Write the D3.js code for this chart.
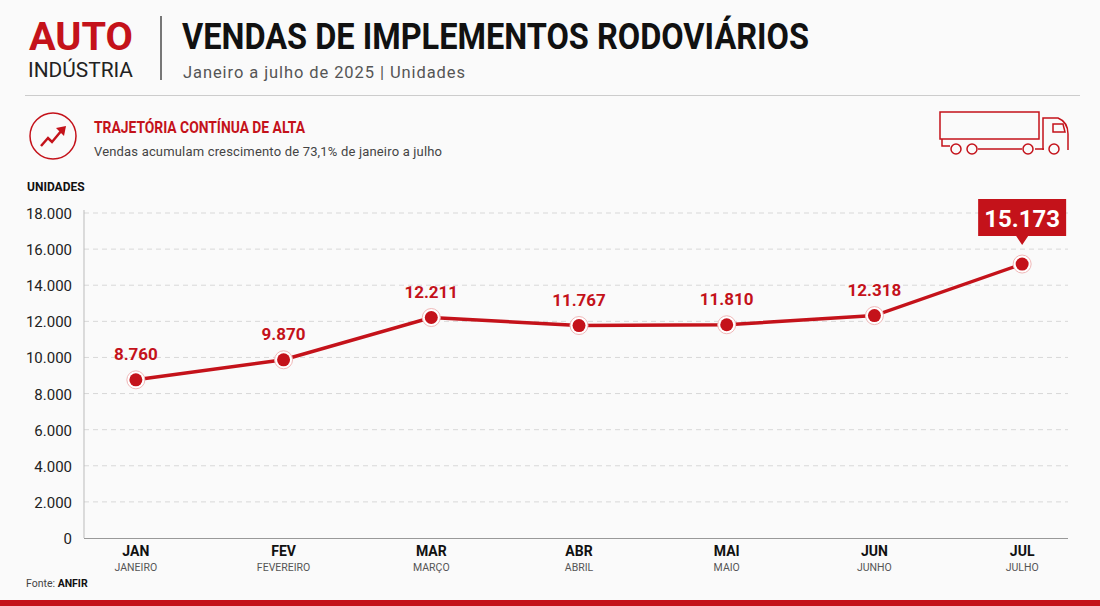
<!DOCTYPE html>
<html><head><meta charset="utf-8">
<script src="https://cdn.jsdelivr.net/npm/d3@7"></script>
<style>body{margin:0;background:#fafafa}svg{display:block}</style>
</head><body>
<script>
const months = ["JAN","FEV","MAR","ABR","MAI","JUN","JUL"];
const monthNames = ["JANEIRO","FEVEREIRO","MARÇO","ABRIL","MAIO","JUNHO","JULHO"];
const sales = [8760, 9870, 12211, 11767, 11810, 12318, 15173];
const yTicks = [0,2000,4000,6000,8000,10000,12000,14000,16000,18000];

const W = 1100, H = 606, RED = "#c4121a", COND = "Roboto,sans-serif";
const fmt = d3.formatLocale({decimal:",", thousands:".", grouping:[3]}).format(",");
const svg = d3.select("body").append("svg").attr("width", W).attr("height", H);
svg.append("rect").attr("width", W).attr("height", H).attr("fill", "#fafafa");

// header
svg.append("text").attr("x",29).attr("y",50).attr("fill",RED).attr("font-family",COND)
  .attr("font-weight","bold").attr("font-size",38).attr("textLength",104).attr("lengthAdjust","spacingAndGlyphs").text("AUTO");
svg.append("text").attr("x",28).attr("y",77).attr("fill","#222").attr("font-family","Roboto,sans-serif")
  .attr("font-size",21).attr("textLength",105).attr("lengthAdjust","spacingAndGlyphs").text("INDÚSTRIA");
svg.append("line").attr("x1",161).attr("x2",161).attr("y1",16).attr("y2",80).attr("stroke","#777").attr("stroke-width",2);
svg.append("text").attr("x",182).attr("y",49).attr("fill","#111").attr("font-family",COND)
  .attr("font-weight","bold").attr("font-size",37).attr("textLength",627).attr("lengthAdjust","spacingAndGlyphs").text("VENDAS DE IMPLEMENTOS RODOVIÁRIOS");
svg.append("text").attr("x",183).attr("y",78).attr("fill","#555").attr("font-family","Roboto,sans-serif")
  .attr("font-size",16.5).attr("textLength",282).text("Janeiro a julho de 2025 | Unidades");
svg.append("line").attr("x1",25).attr("x2",1080).attr("y1",95.5).attr("y2",95.5).attr("stroke","#ccc");

// subtitle block
svg.append("circle").attr("cx",53).attr("cy",136).attr("r",23).attr("fill","none").attr("stroke",RED).attr("stroke-width",1.5);
svg.append("path").attr("d","M41,146 L48,138 L52,142 L62,130").attr("fill","none").attr("stroke",RED).attr("stroke-width",2.5);
svg.append("path").attr("d","M56,128 L66,126 L64,136 Z").attr("fill",RED);
svg.append("text").attr("x",94).attr("y",133).attr("fill",RED).attr("font-family",COND)
  .attr("font-weight","bold").attr("font-size",16).attr("textLength",211).attr("lengthAdjust","spacingAndGlyphs").text("TRAJETÓRIA CONTÍNUA DE ALTA");
svg.append("text").attr("x",94).attr("y",156).attr("fill","#444").attr("font-family","Roboto,sans-serif")
  .attr("font-size",13).attr("textLength",348).text("Vendas acumulam crescimento de 73,1% de janeiro a julho");

// truck icon
const tk = svg.append("g").attr("fill","none").attr("stroke",RED).attr("stroke-width",1.5);
tk.append("rect").attr("x",940).attr("y",112).attr("width",99).attr("height",27);
tk.append("path").attr("d","M1043,150 L1043,118 L1058,118 Q1068,122 1068,134 L1068,150 M1053,124 L1063,124 L1065,132 L1053,132 Z M942,139 L942,146 L950,146 M978,149 L1022,149 M1035,149 L1044,149");
[956,972,1028,1054].forEach(cx => tk.append("circle").attr("cx",cx).attr("cy",149).attr("r",5));

svg.append("text").attr("x",27).attr("y",191).attr("fill","#111").attr("font-family",COND)
  .attr("font-weight","bold").attr("font-size",12).text("UNIDADES");

// scales
const x = d3.scalePoint().domain(months).range([62,1096]).padding(0.5);
const y = d3.scaleLinear().domain([0,18000]).range([538,213]);

// grid & y axis
svg.append("g").selectAll("line").data(yTicks.filter(d=>d>0)).join("line")
  .attr("x1",84).attr("x2",1068).attr("y1",d=>y(d)).attr("y2",d=>y(d))
  .attr("stroke","#d8d8d8").attr("stroke-dasharray","5,4");
svg.append("line").attr("x1",84).attr("x2",84).attr("y1",210).attr("y2",538).attr("stroke","#bbb");
svg.append("line").attr("x1",84).attr("x2",1068).attr("y1",538.5).attr("y2",538.5).attr("stroke","#999");
svg.append("g").selectAll("text").data(yTicks).join("text")
  .attr("x",72).attr("y",d=>y(d)+6).attr("text-anchor","end").attr("fill","#222")
  .attr("font-family","Roboto,sans-serif").attr("font-size",15).text(d=>fmt(d));

// x labels
const xl = svg.append("g").selectAll("g").data(months).join("g").attr("transform",d=>`translate(${x(d)},0)`);
xl.append("text").attr("y",556).attr("text-anchor","middle").attr("font-family",COND).attr("font-weight","bold")
  .attr("font-size",14).attr("fill","#111").text(d=>d);
xl.append("text").attr("y",571).attr("text-anchor","middle").attr("font-family","Roboto,sans-serif")
  .attr("font-size",10.5).attr("fill","#555").text((d,i)=>monthNames[i]);

// line
const pts = months.map((m,i)=>({m, v:sales[i]}));
svg.append("path").datum(pts).attr("fill","none").attr("stroke",RED).attr("stroke-width",3.5)
  .attr("d", d3.line().x(d=>x(d.m)).y(d=>y(d.v)));
const pg = svg.append("g").selectAll("g").data(pts).join("g").attr("transform",d=>`translate(${x(d.m)},${y(d.v)})`);
pg.append("circle").attr("r",9).attr("fill","#fff").attr("stroke","#f0b8b8");
pg.append("circle").attr("r",6.5).attr("fill",RED);

// value labels
pts.slice(0,6).forEach(d => {
  svg.append("text").attr("x",x(d.m)).attr("y",y(d.v)-20).attr("text-anchor","middle").attr("fill",RED)
    .attr("font-family",COND).attr("font-weight","bold").attr("font-size",17).text(fmt(d.v));
});
const last = pts[6], lx = x(last.m), ly = y(last.v);
svg.append("path").attr("fill",RED)
  .attr("d",`M${lx-44},${ly-65} h88 v37 h-38 l-6,9 l-6,-9 h-38 Z`);
svg.append("text").attr("x",lx).attr("y",ly-37).attr("text-anchor","middle").attr("fill","#fff")
  .attr("font-family",COND).attr("font-weight","bold").attr("font-size",24).text(fmt(last.v));

// footer
svg.append("text").attr("x",26).attr("y",587).attr("font-family","Roboto,sans-serif").attr("font-size",10.5)
  .attr("fill","#444").html('Fonte: <tspan font-weight="bold" fill="#111">ANFIR</tspan>');
svg.append("rect").attr("x",0).attr("y",600).attr("width",W).attr("height",6).attr("fill",RED);
</script>
</body></html>
